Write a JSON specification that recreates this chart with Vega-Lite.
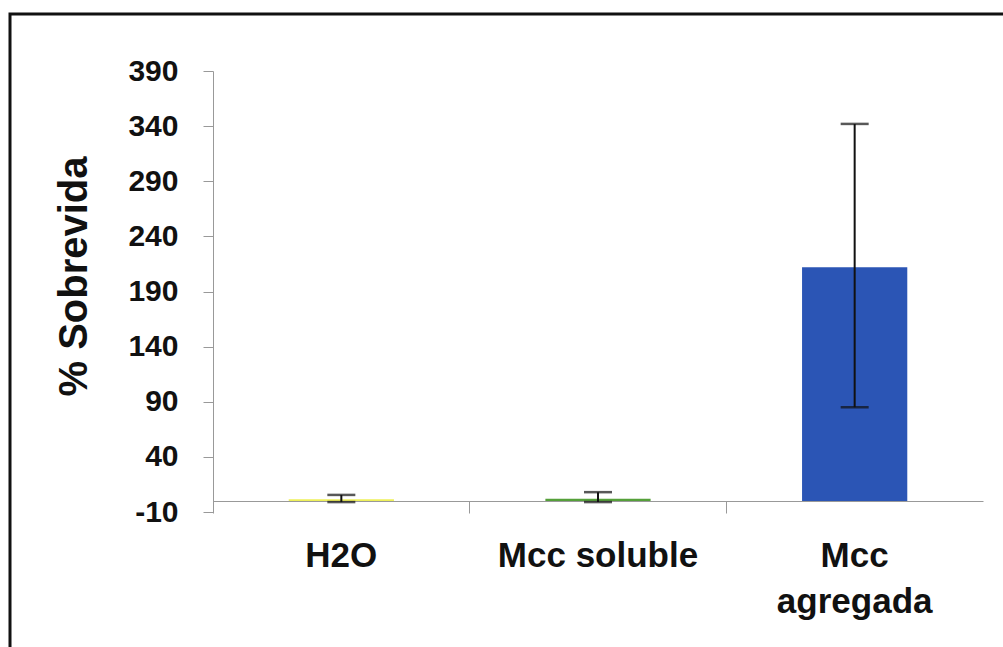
{
  "$schema": "https://vega.github.io/schema/vega-lite/v6.json",
  "autosize": {"type": "none"},
  "padding": {"left": 10, "top": 14, "right": 0, "bottom": 0},
  "width": 993,
  "height": 633,
  "background": "white",
  "config": {
    "view": {"stroke": "#111111", "strokeWidth": 3, "strokeDash": [993, 1626, 633]},
    "font": "Liberation Sans"
  },
  "data": {
    "values": [
      {"grupo": "H2O", "sobrevida": 1.5, "lo": -1, "hi": 5.5},
      {"grupo": "Mcc soluble", "sobrevida": 2, "lo": -1, "hi": 8},
      {"grupo": "Mcc agregada", "sobrevida": 212, "lo": 85, "hi": 342}
    ]
  },
  "encoding": {
    "x": {
      "field": "grupo",
      "type": "nominal",
      "sort": null,
      "scale": {"range": [203, 973], "paddingInner": 0, "paddingOuter": 0},
      "axis": {
        "title": null,
        "offset": -146,
        "labelAngle": 0,
        "labelFont": "Liberation Sans",
        "labelFontSize": 35,
        "labelFontWeight": "bold",
        "labelColor": "#111111",
        "labelBaseline": "top",
        "labelPadding": 25,
        "labelLineHeight": 46,
        "labelLimit": 0,
        "labelExpr": "datum.label == 'Mcc agregada' ? ['Mcc', 'agregada'] : datum.label",
        "bandPosition": 0,
        "tickSize": 12,
        "tickColor": "#999999",
        "domainColor": "#999999",
        "grid": false
      }
    }
  },
  "layer": [
    {
      "mark": {"type": "bar", "width": {"band": 0.41}},
      "encoding": {
        "y": {
          "field": "sobrevida",
          "type": "quantitative",
          "scale": {"domain": [-10, 390], "range": [498, 57], "nice": false, "zero": false},
          "axis": {
            "title": "% Sobrevida",
            "titleFont": "Liberation Sans",
            "titleFontSize": 40,
            "titleFontWeight": "bold",
            "titleColor": "#111111",
            "titleAngle": 270,
            "titleBaseline": "alphabetic",
            "titleAlign": "center",
            "titleX": -127,
            "titleY": 262,
            "offset": -203,
            "values": [-10, 40, 90, 140, 190, 240, 290, 340, 390],
            "labelExpr": "replace(datum.label, '−', '-')",
            "labelFont": "Liberation Sans",
            "labelFontSize": 30,
            "labelFontWeight": "bold",
            "labelColor": "#111111",
            "labelPadding": 25,
            "labelLimit": 0,
            "tickSize": 10,
            "tickColor": "#999999",
            "domainColor": "#999999",
            "grid": false
          }
        },
        "y2": {"datum": 0},
        "color": {
          "field": "grupo",
          "type": "nominal",
          "scale": {"domain": ["H2O", "Mcc soluble", "Mcc agregada"], "range": ["#eef05a", "#55a03a", "#2b55b5"]},
          "legend": null
        }
      }
    },
    {
      "mark": {"type": "rule", "color": "#111111", "strokeWidth": 2},
      "encoding": {
        "y": {"field": "lo", "type": "quantitative"},
        "y2": {"field": "hi"}
      }
    },
    {
      "mark": {"type": "tick", "color": "#111111", "thickness": 2.5, "size": 28},
      "encoding": {"y": {"field": "lo", "type": "quantitative"}}
    },
    {
      "mark": {"type": "tick", "color": "#111111", "thickness": 2.5, "size": 28},
      "encoding": {"y": {"field": "hi", "type": "quantitative"}}
    }
  ]
}
